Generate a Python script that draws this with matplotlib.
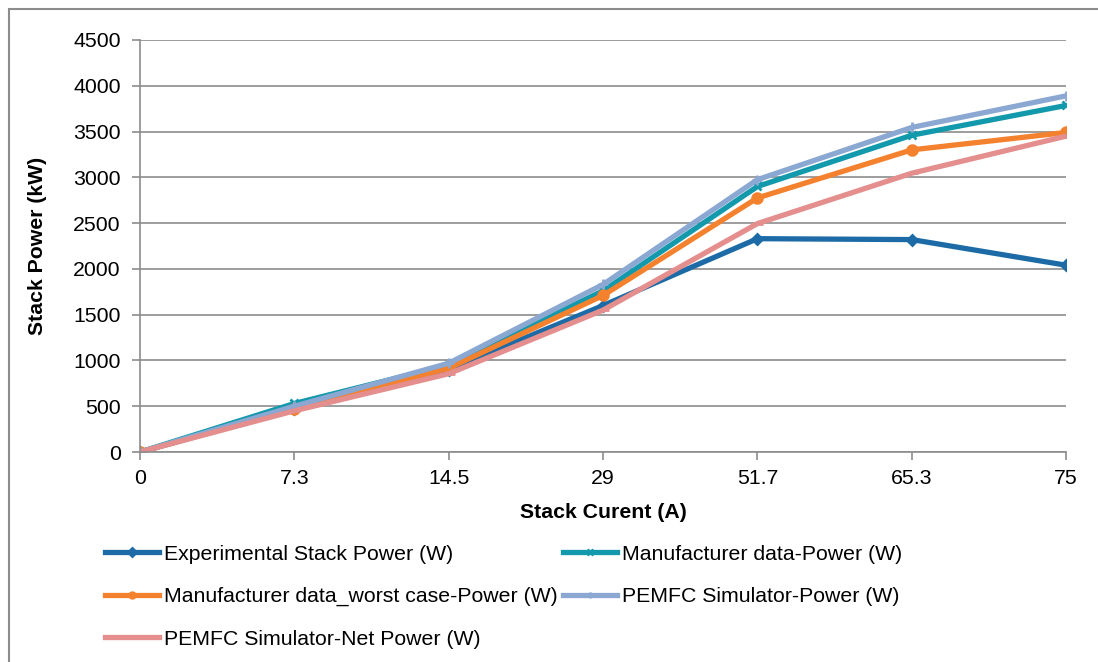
import matplotlib.pyplot as plt
import numpy as np

plt.rcParams['font.family'] = ['Liberation Sans', 'DejaVu Sans']

# x categories (evenly spaced in the chart)
currents = ['0', '7.3', '14.5', '29', '51.7', '65.3', '75']

experimental = [0, 470, 900, 1600, 2330, 2320, 2040]
manufacturer = [0, 530, 950, 1760, 2900, 3460, 3785]
worst_case = [0, 470, 915, 1710, 2775, 3300, 3490]
simulator = [0, 500, 970, 1830, 2975, 3545, 3890]
net_power = [0, 450, 855, 1550, 2495, 3045, 3450]

labels = ['Experimental Stack Power (W)',
          'Manufacturer data-Power (W)',
          'Manufacturer data_worst case-Power (W)',
          'PEMFC Simulator-Power (W)',
          'PEMFC Simulator-Net Power (W)']
colors = ['#1C6BA6', '#1399AC', '#F4812D', '#8AA8D2', '#E48E8D']
markers = ['D', 'x', 'o', '+', '_']
msizes = [5, 6, 7, 7, 8]

fs = 15.3

fig = plt.figure(figsize=(10.98, 6.62), dpi=100)
ax = fig.add_axes([0.1275, 0.3172, 0.8435, 0.6224])

x = np.arange(len(currents))
series = [experimental, manufacturer, worst_case, simulator, net_power]
lines = []
for y, lab, c, m, ms in zip(series, labels, colors, markers, msizes):
    ln, = ax.plot(x, y, color=c, lw=3.8, marker=m, ms=ms, mew=2,
                  label=lab, solid_joinstyle='miter')
    lines.append(ln)

ax.set_xlim(0, len(currents) - 1)
ax.set_ylim(0, 4500)
ax.set_xticks(x)
ax.set_xticklabels(currents)
ax.set_yticks(np.arange(0, 4501, 500))
ax.tick_params(labelsize=fs, color='#8C8C8C', length=6, width=1.2)
ax.tick_params(axis='y', pad=8)
ax.tick_params(axis='x', pad=6)
ax.grid(axis='y', color='#8C8C8C', lw=1.2)
ax.set_axisbelow(True)
for s in ['top', 'right']:
    ax.spines[s].set_visible(False)
for s in ['left', 'bottom']:
    ax.spines[s].set_color('#8C8C8C')
    ax.spines[s].set_linewidth(1.2)

ax.set_xlabel('Stack Curent (A)', fontsize=fs, fontweight='bold', labelpad=11)
ax.set_ylabel('Stack Power (kW)', fontsize=fs, fontweight='bold', labelpad=19)

# Excel legend is row-major; reorder for matplotlib's column fill
order = [0, 2, 4, 1, 3]
leg = fig.legend([lines[i] for i in order], [labels[i] for i in order],
                 loc='upper left', bbox_to_anchor=(0.0956, 0.177), ncol=2,
                 frameon=False, fontsize=fs, handlelength=2.55,
                 handletextpad=0.23, columnspacing=0.25, labelspacing=1.1,
                 borderaxespad=0, borderpad=0)
for h in leg.legend_handles:
    h.set_markersize(4)

# outer chart border
fig.patches.append(plt.Rectangle((9 / 1098, -0.01), 1.2, 1 - 9 / 662 + 0.01,
                                 transform=fig.transFigure, fill=False,
                                 edgecolor='#8C8C8C', lw=1.5))

fig.savefig('out.png', dpi=100)
